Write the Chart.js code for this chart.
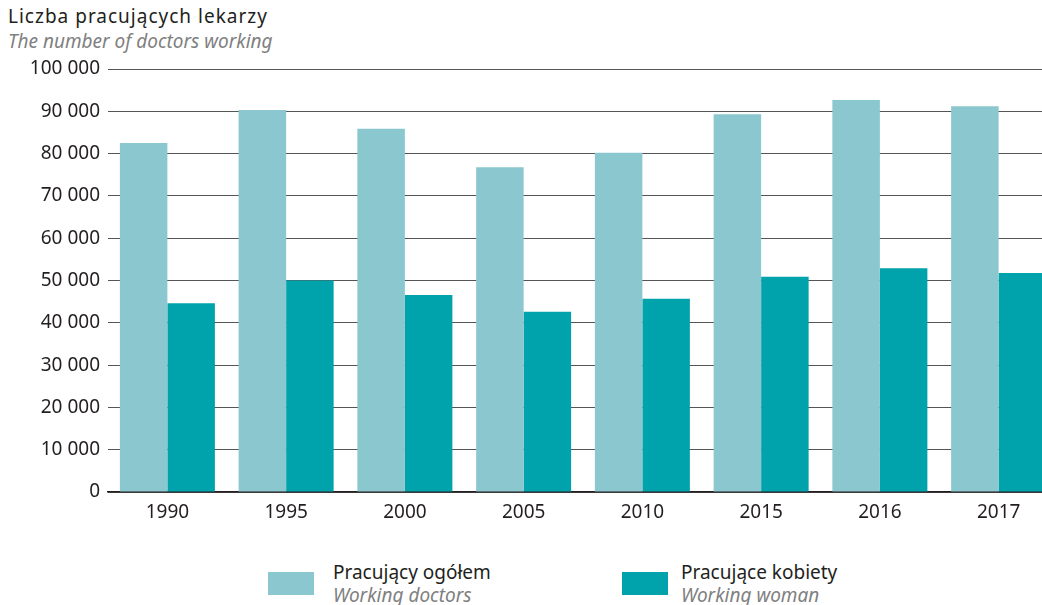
<!DOCTYPE html>
<html>
<head>
<meta charset="UTF-8">
<title>Liczba pracujących lekarzy</title>
<script src="https://cdn.jsdelivr.net/npm/chart.js@4"></script>
<style>
body { margin: 0; width: 1042px; height: 605px; overflow: hidden; background: #fff; font-family: "Noto Sans", sans-serif; position: relative; }
#title { position: absolute; left: 8px; top: 4px; font-size: 19px; color: #231f20; line-height: 25px; }
#title span { letter-spacing: 1px; }
#title i { color: #808080; }
#wrap { position: absolute; left: 0; top: 0; width: 1062px; height: 535px; }
.leg { position: absolute; top: 561px; font-size: 19px; line-height: 23px; color: #231f20; }
.leg i { color: #808080; }
.sw { position: absolute; width: 46px; height: 23px; top: 572px; }
</style>
</head>
<body>
<div id="title"><span>Liczba pracujących lekarzy</span><br><i>The number of doctors working</i></div>
<div id="wrap"><canvas id="myChart"></canvas></div>
<div class="sw" style="left:268px;background:#8bc7ce"></div>
<div class="leg" style="left:333px">Pracujący ogółem<br><i>Working doctors</i></div>
<div class="sw" style="left:622px;background:#00a3ac"></div>
<div class="leg" style="left:681px">Pracujące kobiety<br><i>Working woman</i></div>
<script>
// dane z wykresu
const years = ['1990', '1995', '2000', '2005', '2010', '2015', '2016', '2017'];
const doctorsTotal = [82500, 90300, 85900, 76800, 80200, 89300, 92700, 91200];
const doctorsWomen = [44600, 50000, 46600, 42600, 45700, 50900, 52900, 51800];
const yTicks = [0, 10000, 20000, 30000, 40000, 50000, 60000, 70000, 80000, 90000, 100000];

function fmt(v) {
    return String(v).replace(/\B(?=(\d{3})+(?!\d))/g, ' ');
}

let myChart = null;

function drawChart() {
    const canvas = document.getElementById('myChart');
    myChart = new Chart(canvas, {
        type: 'bar',
        data: {
            labels: years,
            datasets: [{
                label: 'Pracujący ogółem',
                data: doctorsTotal,
                backgroundColor: '#8bc7ce',
                borderWidth: 0
            }, {
                label: 'Pracujące kobiety',
                data: doctorsWomen,
                backgroundColor: '#00a3ac',
                borderWidth: 0
            }]
        },
        options: {
            responsive: true,
            maintainAspectRatio: false,
            animation: false,
            layout: { padding: { top: 69, right: 4, left: 0, bottom: 0 } },
            plugins: { legend: { display: false }, tooltip: { enabled: false } },
            datasets: { bar: { categoryPercentage: 0.8, barPercentage: 1.0 } },
            scales: {
                x: {
                    grid: { display: false },
                    border: { color: '#231f20', width: 1.5 },
                    ticks: { color: '#231f20', font: { family: 'Noto Sans', size: 19 }, padding: 1, maxRotation: 0 },
                    afterFit: function (s) { s.height = 43; }
                },
                y: {
                    min: 0,
                    max: 100000,
                    afterBuildTicks: function (s) { s.ticks = yTicks.map(v => ({ value: v })); },
                    grid: { color: '#555', lineWidth: 1, drawTicks: false },
                    border: { display: false },
                    ticks: {
                        color: '#231f20',
                        font: { family: 'Noto Sans', size: 19 },
                        padding: 8,
                        callback: v => fmt(v)
                    },
                    afterFit: function (s) { s.width = 108; }
                }
            }
        }
    });
}

window.onload = function () {
    drawChart();
};
</script>
</body>
</html>
